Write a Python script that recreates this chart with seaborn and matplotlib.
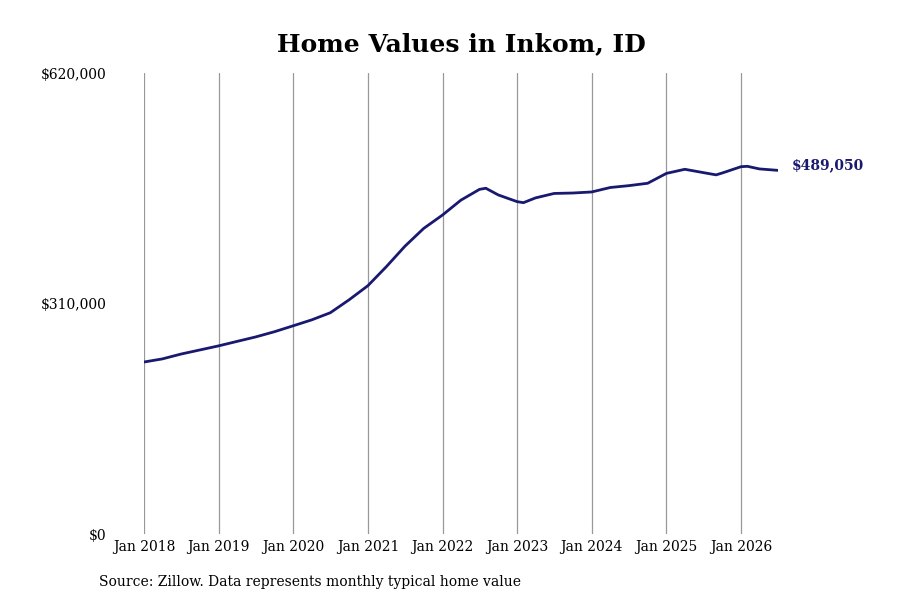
import pandas as pd
import numpy as np
import seaborn as sns
import matplotlib.pyplot as plt
import matplotlib.dates as mdates
from matplotlib.ticker import FuncFormatter

# values (roughly quarterly)
months = ['2018-01', '2018-04', '2018-07', '2018-10',
          '2019-01', '2019-04', '2019-07', '2019-10',
          '2020-01', '2020-04', '2020-07', '2020-10',
          '2021-01', '2021-04', '2021-07', '2021-10',
          '2022-01', '2022-04', '2022-07', '2022-08', '2022-10',
          '2023-01', '2023-02', '2023-04', '2023-07', '2023-10',
          '2024-01', '2024-04', '2024-07', '2024-10',
          '2025-01', '2025-04', '2025-07', '2025-09', '2025-10',
          '2026-01', '2026-02', '2026-04', '2026-07']
values = [231300, 235500, 242000, 247500,
          253000, 259000, 265000, 272000,
          280000, 288000, 297600, 315000,
          334000, 359500, 387000, 411000,
          429000, 449000, 463500, 465000, 456000,
          447000, 445600, 452000, 458000, 458600,
          460000, 466000, 468500, 471700,
          485000, 490500, 486000, 483000, 485500,
          494000, 494500, 491000, 489050]
y_ticks = [0, 310000, 620000]
year_ticks = [f'{y}-01' for y in range(2018, 2027)]

df = pd.DataFrame({'date': pd.to_datetime(months), 'value': values})

sns.set_style('white')
plt.rcParams['font.family'] = ['DejaVu Serif']
plt.rcParams['text.color'] = 'black'

line_color = '#191970'

fig = plt.figure(figsize=(9, 6), dpi=100)
ax = fig.add_axes([144 / 900, 1 - 534 / 600, (778 - 144) / 900, (534 - 73) / 600])

sns.lineplot(data=df, x='date', y='value', ax=ax, color=line_color, linewidth=2.0)

ax.set_xlim(df['date'].iloc[0], df['date'].iloc[-1])
ax.set_ylim(0, 620000)
ax.set_yticks(y_ticks)
ax.yaxis.set_major_formatter(FuncFormatter(lambda v, p: f'${v:,.0f}'))
ax.set_xticks(pd.to_datetime(year_ticks))
ax.xaxis.set_major_formatter(mdates.DateFormatter('Jan %Y'))
ax.xaxis.grid(True, color='#999999', linewidth=0.9)
ax.yaxis.grid(False)
ax.tick_params(axis='x', length=0, pad=4, labelsize=10, colors='black')
ax.tick_params(axis='y', length=0, pad=27, labelsize=10, colors='black')
for s in ax.spines.values():
    s.set_visible(False)
ax.set_xlabel('')
ax.set_ylabel('')
ax.set_title('Home Values in Inkom, ID', fontsize=18, fontweight='bold', pad=16, color='black')

last = df.iloc[-1]
ax.annotate(f"${last['value']:,.0f}", xy=(last['date'], last['value']),
            xytext=(10, 4), textcoords='offset points', va='center', ha='left',
            fontsize=10, fontweight='bold', color=line_color, annotation_clip=False)

fig.text(99 / 900, 1 - 582 / 600, 'Source: Zillow. Data represents monthly typical home value',
         fontsize=10, va='center', ha='left', color='black')

fig.savefig('out.png', dpi=100)
